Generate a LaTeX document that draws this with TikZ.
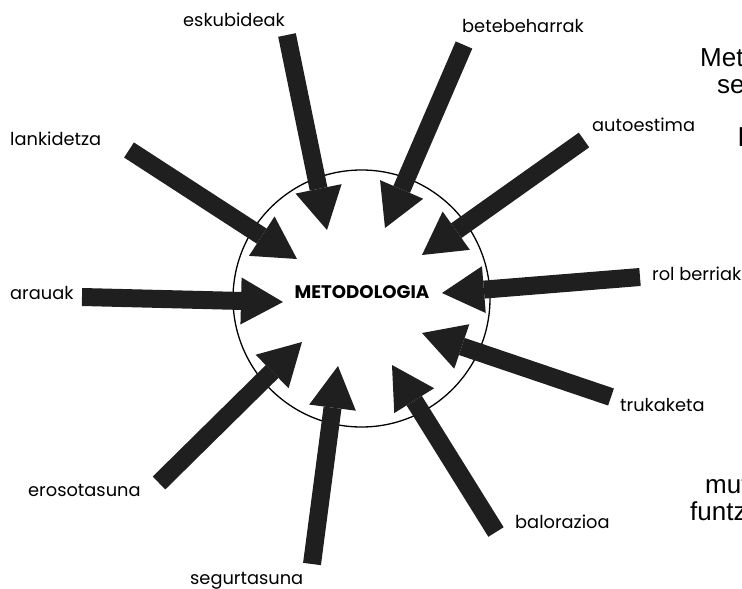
\documentclass[tikz,border=0pt]{standalone}
\usepackage{fontspec}
\setmainfont{Poppins}
\newfontfamily\arialf{Liberation Sans}
\usetikzlibrary{arrows.meta}
\definecolor{ink}{HTML}{1E1F1E}
\tikzset{
  lbl/.style={anchor=base west, inner sep=0pt, font=\fontsize{17.8}{18}\selectfont},
  bigarrow/.style={draw=ink, line width=18pt, line cap=butt,
    -{Triangle[width=47pt,length=42pt,line width=0pt]}},
  edgetxt/.style={anchor=base west, inner sep=0pt, font=\arialf\fontsize{26}{26}\selectfont},
}
\begin{document}
\begin{tikzpicture}[x=1pt,y=-1pt]
\useasboundingbox (0,0) rectangle (742,589);
\clip (0,0) rectangle (742,589);
% circle
\node[circle, draw=black, line width=1.3pt, minimum size=257pt, inner sep=0pt] (c) at (361.5,298.5) {};
\node[font=\bfseries\fontsize{18.2}{18}\selectfont, inner sep=0pt] (m) at (362,292) {METODOLOGIA};
% labels
\node[lbl] (l1) at (183,27) {eskubideak};
\node[lbl] (l2) at (462,32) {betebeharrak};
\node[lbl] (l3) at (592,131) {autoestima};
\node[lbl] (l4) at (10,145) {lankidetza};
\node[lbl] (l5) at (10,299) {arauak};
\node[lbl] (l6) at (652,280) {rol berriak};
\node[lbl] (l7) at (620,411) {trukaketa};
\node[lbl] (l8) at (515,528) {balorazioa};
\node[lbl] (l9) at (190,584) {segurtasuna};
\node[lbl] (l10) at (28,496) {erosotasuna};
% arrow tails and tips
\coordinate (s1) at (287,35);   \coordinate (t1) at (327,230);
\coordinate (s2) at (464,45);   \coordinate (t2) at (385,228);
\coordinate (s3) at (584,140);  \coordinate (t3) at (422,255);
\coordinate (s4) at (129,150);  \coordinate (t4) at (297,259);
\coordinate (s5) at (82,297);   \coordinate (t5) at (283,302);
\coordinate (s6) at (640,277);  \coordinate (t6) at (442,293);
\coordinate (s7) at (611,397);  \coordinate (t7) at (422,333);
\coordinate (s8) at (496,532);  \coordinate (t8) at (392,365);
\coordinate (s9) at (312,564);  \coordinate (t9) at (338,366);
\coordinate (s10) at (159,483); \coordinate (t10) at (302,342);
\foreach \i in {1,...,10} {\draw[bigarrow] (s\i) -- (t\i);}
% text of the neighbouring page, cut by the edge as in the reference
\node[edgetxt] (e1) at (700,66) {Met};
\node[edgetxt] (e2) at (717,93) {se};
\node[edgetxt] (e3) at (738,146) {l};
\node[edgetxt] (e4) at (705,493) {mut};
\node[edgetxt] (e5) at (690,520) {funtz};
\end{tikzpicture}
\end{document}
